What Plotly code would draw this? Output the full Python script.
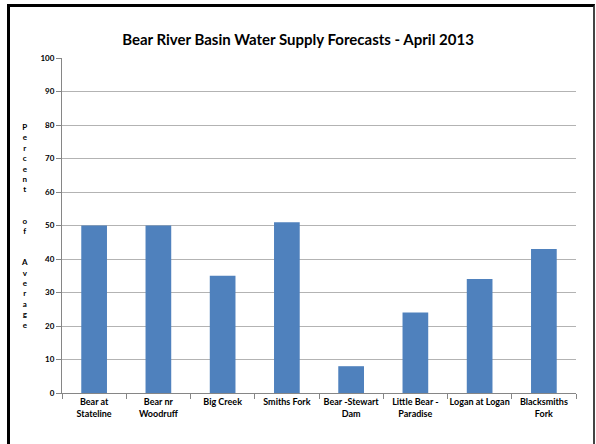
import plotly.graph_objects as go

categories = ["Bear at<br>Stateline", "Bear nr<br>Woodruff", "Big Creek", "Smiths Fork",
              "Bear -Stewart<br>Dam", "Little Bear -<br>Paradise", "Logan at Logan",
              "Blacksmiths<br>Fork"]
values = [50, 50, 35, 51, 8, 24, 34, 43]
y_ticks = [0, 10, 20, 30, 40, 50, 60, 70, 80, 90, 100]
title_text = "Bear River Basin Water Supply Forecasts - April 2013"
y_title = "Percent of Average"

FONT = "Lato"

fig = go.Figure(go.Bar(x=categories, y=values, marker_color="#4F81BD",
                       marker_line_width=0, hoverinfo="skip"))

# stacked vertical letters for y title
stacked = "<br>".join(ch if ch != " " else " <br> " for ch in y_title)

W, H = 596, 444
L, R, T, B = 62, 20, 58, 51
pw, ph = W - L - R, H - T - B

def px(x):
    return (x - L) / pw

def py(y):
    return (H - B - y) / ph

fig.update_layout(
    width=W, height=H,
    margin=dict(l=L, r=R, t=T, b=B, autoexpand=False),
    paper_bgcolor="white", plot_bgcolor="white",
    bargap=0.6,
    showlegend=False,
    font=dict(family=FONT, color="black"),
    title=dict(text="<b>" + title_text + "</b>", x=0.5, xref="container",
               xanchor="center",
               y=1 - 40 / H, yanchor="middle",
               font=dict(size=15, family=FONT, color="black")),
    xaxis=dict(showline=True, linecolor="#868686", linewidth=1,
               ticks="outside", tickcolor="#868686", ticklen=5,
               tickson="boundaries", tickangle=0, automargin=False,
               tickfont=dict(size=9, family=FONT, color="black", weight="bold"),
               showgrid=False),
    yaxis=dict(range=[0, 100], tickvals=y_ticks, showline=True,
               linecolor="#868686", linewidth=1, ticks="outside",
               tickcolor="#868686", ticklen=5, automargin=False,
               showgrid=True, gridcolor="#B3B3B3", gridwidth=1,
               tickfont=dict(size=8, family=FONT, color="black", weight="bold"),
               zeroline=False),
    annotations=[dict(text="<b>" + stacked + "</b>", xref="paper", yref="paper",
                      x=px(24), y=py(226), xanchor="center", yanchor="middle",
                      showarrow=False, align="center",
                      font=dict(size=8, family=FONT, color="black"))],
)

post = """
document.body.style.margin='0';
document.body.style.overflow='hidden';
var b = document.createElement('div');
b.style.position='fixed';
b.style.left='7px'; b.style.top='4px';
b.style.width='583px'; b.style.height='460px';
b.style.borderLeft='3px solid #000';
b.style.borderTop='3px solid #000';
b.style.borderRight='2px solid #444';
b.style.pointerEvents='none';
b.style.zIndex='1000';
document.body.appendChild(b);
"""

fig.write_html("out.html", config={"displayModeBar": False}, post_script=post)
